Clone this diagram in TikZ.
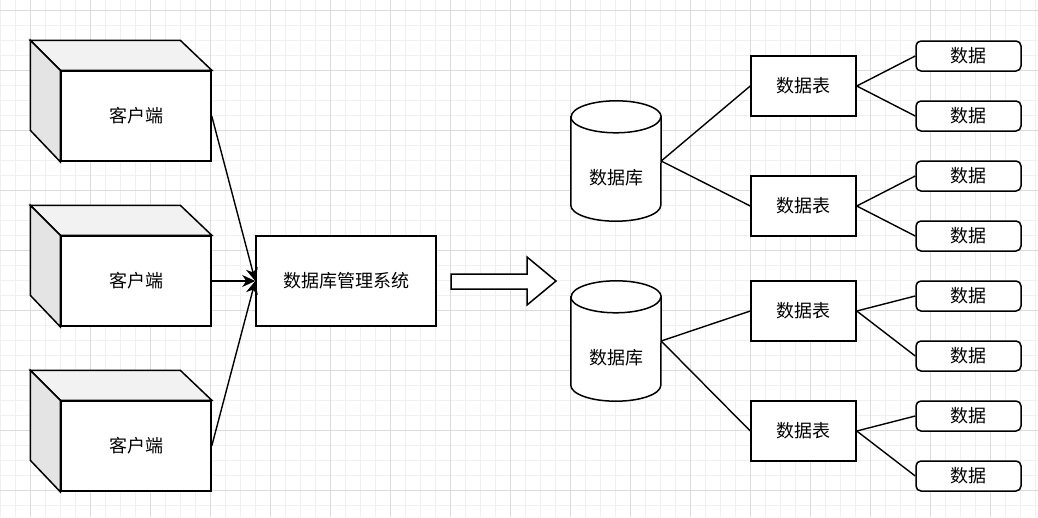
\documentclass[tikz,border=0pt]{standalone}
\usepackage{fontspec}
\usepackage{tikz}
\usetikzlibrary{calc,arrows.meta}
\newfontfamily\cjk{Noto Sans CJK SC}
\definecolor{gridminor}{HTML}{F0F0F0}
\definecolor{gridmajor}{HTML}{DCDCDC}
\definecolor{cubetop}{HTML}{F2F2F2}
\definecolor{cubeside}{HTML}{E4E4E4}
\tikzset{
  outline/.style={draw=black, line width=1.5pt, line join=miter},
  box/.style={outline, fill=white, inner sep=0pt},
  lab/.style={font=\cjk\fontsize{18}{20}\selectfont},
  client/.style={box, lab, minimum width=150pt, minimum height=90pt},
  dbms/.style={box, lab, minimum width=180pt, minimum height=90pt},
  tablebox/.style={box, lab, minimum width=105pt, minimum height=60pt},
  databox/.style={box, lab, rounded corners=5pt, minimum width=105pt, minimum height=30pt},
  dbbody/.style={draw=none, inner sep=0pt, minimum width=90pt, minimum height=120pt},
  conn/.style={draw=black, line width=1.4pt},
  feed/.style={conn, -{Stealth[length=13pt, width=12pt, inset=4pt]}},
}

\begin{document}
\begin{tikzpicture}[x=1pt, y=-1pt]
  \useasboundingbox[fill=white] (0,0) rectangle (1038,517);
  \foreach \x in {0,15,...,1035} \draw[gridminor, line width=1pt] (\x,0) -- (\x,517);
  \foreach \y in {10,25,...,515} \draw[gridminor, line width=1pt] (0,\y) -- (1038,\y);
  \foreach \x in {30,90,...,990} \draw[gridmajor, line width=1pt] (\x,0) -- (\x,517);
  \foreach \y in {10,70,...,490} \draw[gridmajor, line width=1pt] (0,\y) -- (1038,\y);

  % clients
  \foreach \n/\y in {1/116, 2/281, 3/446} {
    \node[client] (cl\n) at (136,\y) {客户端};
    \draw[outline, fill=cubetop] (cl\n.north west) -- ++(-30,-30) -- ++(150,0) -- (cl\n.north east) -- cycle;
    \draw[outline, fill=cubeside] (cl\n.north west) -- ++(-30,-30) -- ++(0,90) -- (cl\n.south west) -- cycle;
  }

  \node[dbms] (dbms) at (346,281) {数据库管理系统};
  \foreach \n in {1,2,3} \draw[feed] (cl\n.east) -- (dbms.west);

  \draw[outline, fill=white] (451,274) -- (527,274) -- (527,257) -- (556,281)
    -- (527,305) -- (527,289) -- (451,289) -- cycle;

  % databases
  \foreach \n/\y in {1/161, 2/341} {
    \node[dbbody] (db\n) at (616,\y) {};
    \draw[outline, fill=white] ($(db\n.north west)+(0,16)$) -- ($(db\n.south west)+(0,-16)$)
      arc[start angle=180, end angle=360, x radius=45pt, y radius=16pt]
      -- ($(db\n.north east)+(0,16)$)
      arc[start angle=0, end angle=180, x radius=45pt, y radius=16pt] -- cycle;
    \draw[outline] ($(db\n.north west)+(0,16)$)
      arc[start angle=180, end angle=360, x radius=45pt, y radius=16pt];
    \node[lab] (dblab\n) at ($(db\n)+(0,17)$) {数据库};
  }

  % tables and data
  \foreach \n/\y in {1/86, 2/206, 3/311, 4/431}
    \node[tablebox] (tb\n) at (803.5,\y) {数据表};
  \foreach \n/\y in {1/56, 2/116, 3/176, 4/236, 5/296, 6/356, 7/416, 8/476}
    \node[databox] (dt\n) at (968.5,\y) {数据};

  \draw[conn] (db1.east) -- (tb1.west);
  \draw[conn] (db1.east) -- (tb2.west);
  \draw[conn] (db2.east) -- (tb3.west);
  \draw[conn] (db2.east) -- (tb4.west);
  \foreach \t/\a/\b in {1/1/2, 2/3/4, 3/5/6, 4/7/8} {
    \draw[conn] (tb\t.east) -- (dt\a.west);
    \draw[conn] (tb\t.east) -- (dt\b.west);
  }
\end{tikzpicture}
\end{document}
